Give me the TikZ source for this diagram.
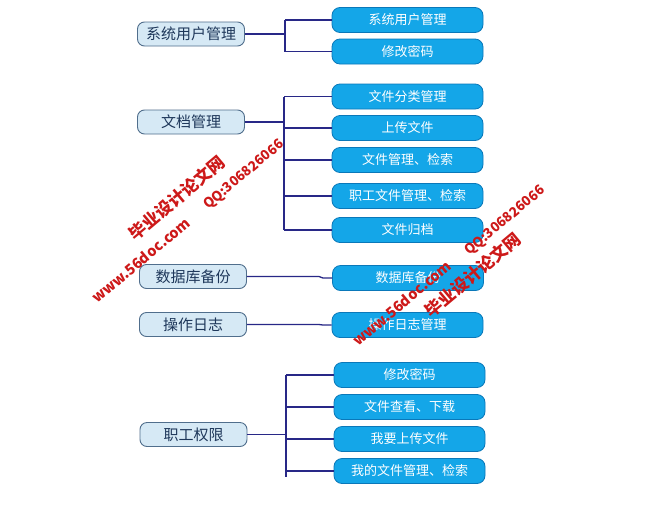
\documentclass[tikz,border=0pt]{standalone}
\usepackage{fontspec}
\setmainfont{Noto Sans CJK SC}
\definecolor{lfill}{RGB}{214,233,245}
\definecolor{lborder}{RGB}{80,110,140}
\definecolor{ltext}{RGB}{30,55,90}
\definecolor{rfill}{RGB}{20,166,232}
\definecolor{rborder}{RGB}{10,120,185}
\definecolor{conn}{RGB}{40,40,135}
\definecolor{wm}{RGB}{205,25,25}
\begin{document}
\begin{tikzpicture}[x=1pt,y=-1pt,
  lbox/.style={draw=lborder,fill=lfill,line width=0.9pt,rounded corners=7pt,minimum width=107pt,minimum height=24pt,inner sep=0pt,text=ltext,font=\fontsize{15}{15}\selectfont},
  rbox/.style={draw=rborder,fill=rfill,line width=0.8pt,rounded corners=8pt,minimum width=151pt,minimum height=25pt,inner sep=0pt,text=white,font=\fontsize{13}{13}\selectfont},
  conline/.style={draw=conn,line width=1.3pt},
  wmark/.style={text=wm,font=\bfseries,rotate=40,inner sep=0pt},
  wmcn/.style={wmark,font=\bfseries\fontsize{17}{17}\selectfont},
  wmurl/.style={wmark,font=\bfseries\fontsize{14.5}{14.5}\selectfont},
  wmqq/.style={wmark,font=\bfseries\fontsize{13.5}{13.5}\selectfont}]
\useasboundingbox (0,0) rectangle (656,504);
\fill[white] (0,0) rectangle (656,504);
% left nodes
\node[lbox] (L1) at (191,34) {系统用户管理};
\node[lbox] (L2) at (191,122) {文档管理};
\node[lbox] (L3) at (193,276.5) {数据库备份};
\node[lbox] (L4) at (193,324.5) {操作日志};
\node[lbox] (L5) at (193.5,434.5) {职工权限};
% right nodes
\node[rbox] (R1) at (407.5,20) {系统用户管理};
\node[rbox] (R2) at (407.5,51.5) {修改密码};
\node[rbox] (R3) at (407.5,96.5) {文件分类管理};
\node[rbox] (R4) at (407.5,128) {上传文件};
\node[rbox] (R5) at (407.5,160) {文件管理、检索};
\node[rbox] (R6) at (407.5,196) {职工文件管理、检索};
\node[rbox] (R7) at (407.5,230) {文件归档};
\node[rbox] (R8) at (408,278) {数据库备份};
\node[rbox] (R9) at (407.5,325) {操作日志管理};
\node[rbox] (R10) at (409.5,375) {修改密码};
\node[rbox] (R11) at (409.5,407) {文件查看、下载};
\node[rbox] (R12) at (409.5,439) {我要上传文件};
\node[rbox] (R13) at (409.5,471) {我的文件管理、检索};
% bus coordinates
\coordinate (b1) at (285,0);
\coordinate (b2) at (284,0);
\coordinate (b5) at (286,0);
% group 1
\draw[conline] (L1.east) -- (L1.east -| b1);
\draw[conline] (R1.west -| b1) -- (R2.west -| b1);
\foreach \r in {R1,R2} \draw[conline] (\r.west -| b1) -- (\r.west);
% group 2
\draw[conline] (L2.east) -- (L2.east -| b2);
\draw[conline] (R3.west -| b2) -- (R7.west -| b2);
\foreach \r in {R3,R4,R5,R6,R7} \draw[conline] (\r.west -| b2) -- (\r.west);
% group 3, 4
\draw[conline] (L3.east) -- ++(72,0) -- ++(4,1.5) -- (R8.west);
\draw[conline] (L4.east) -- ++(72,0) -- ++(4,0.5) -- (R9.west);
% group 5
\draw[conline] (L5.east) -- (L5.east -| b5);
\draw[conline] (R10.west -| b5) -- ([yshift=-6pt]R13.west -| b5);
\foreach \r in {R10,R11,R12,R13} \draw[conline] (\r.west -| b5) -- (\r.west);
% watermarks
\node[wmcn] (w1) at (177,198) {毕业设计论文网};
\node[wmqq] (w2) at (244,175) {QQ:306826066};
\node[wmurl] (w3) at (141,260) {www.56doc.com};
\node[wmqq] (w4) at (505,221) {QQ:306826066};
\node[wmcn] (w5) at (473,275) {毕业设计论文网};
\node[wmurl] (w6) at (402,303) {www.56doc.com};
\end{tikzpicture}
\end{document}
